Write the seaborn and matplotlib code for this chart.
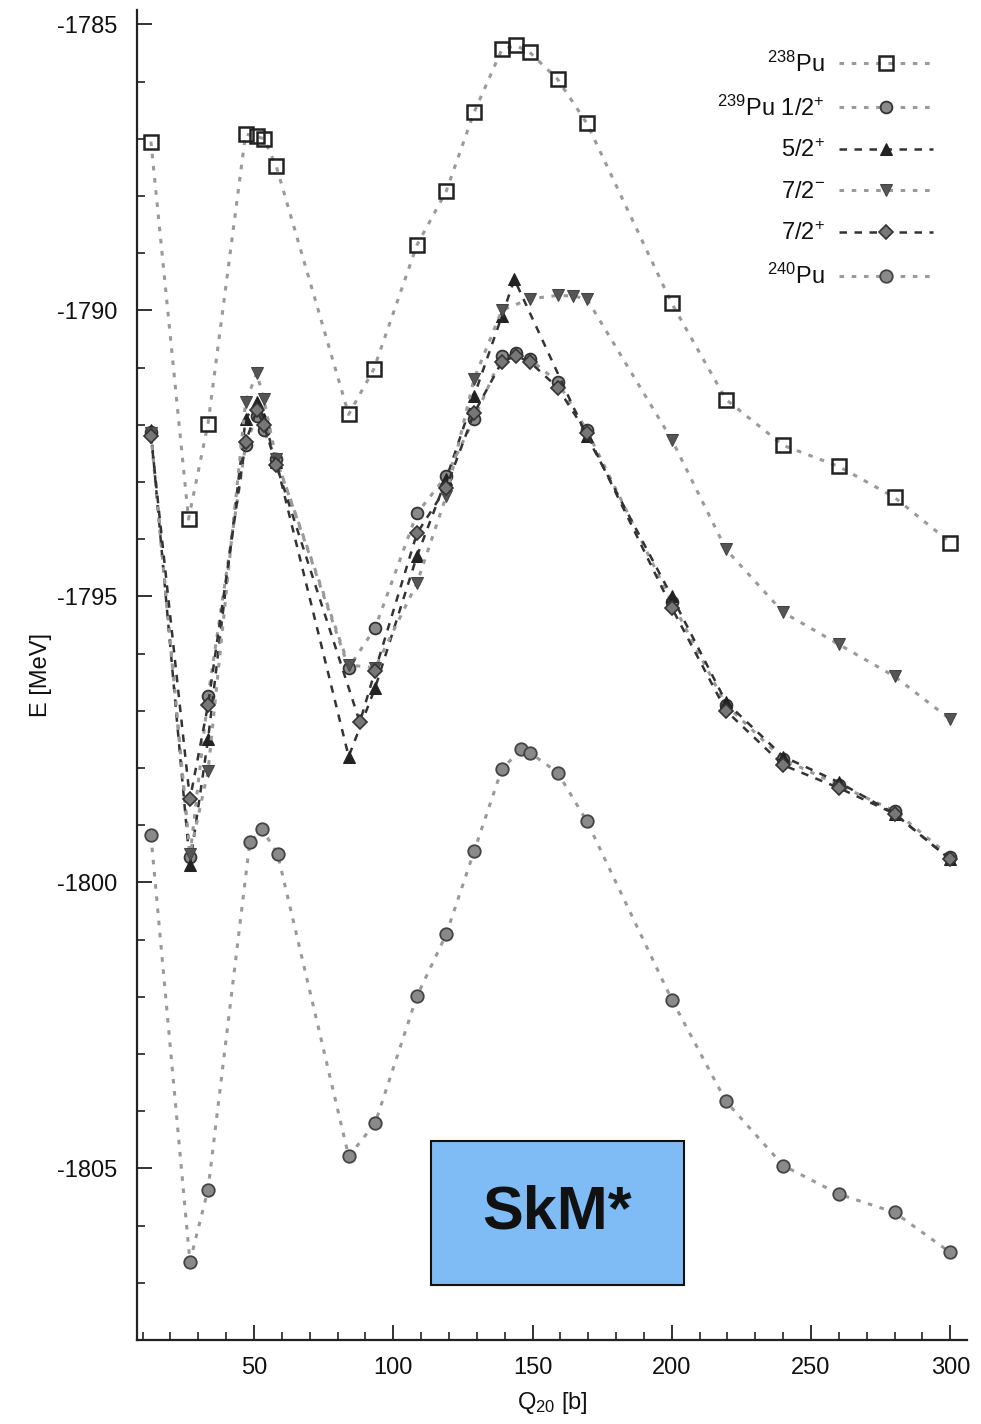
import matplotlib
matplotlib.use("Agg")
import matplotlib.pyplot as plt
import seaborn as sns
import pandas as pd
from matplotlib.ticker import MultipleLocator
from matplotlib.patches import Rectangle

# ---- data ----
q238 = [13, 26.5, 33.5, 47, 51, 53.5, 58, 84, 93, 108.5, 119, 129, 139, 144, 149, 159, 169.5, 200, 219.5, 240, 260, 280, 300]
e238 = [-1787.05, -1793.65, -1791.98, -1786.92, -1786.96, -1787.0, -1787.48, -1791.82, -1791.03, -1788.86, -1787.92,
        -1786.54, -1785.44, -1785.37, -1785.49, -1785.96, -1786.73, -1789.88, -1791.56, -1792.36, -1792.73, -1793.27, -1794.06]

q12 = [13, 27, 33.5, 47, 51, 53.5, 58, 84, 93.5, 108.5, 119, 129, 139, 144, 149, 159, 169.5, 200, 219.5, 240, 260, 280, 300]
e12 = [-1792.13, -1799.55, -1796.75, -1792.35, -1791.85, -1792.1, -1792.6, -1796.25, -1795.55, -1793.55, -1792.9,
       -1791.9, -1790.8, -1790.75, -1790.85, -1791.25, -1792.1, -1795.1, -1796.9, -1797.85, -1798.3, -1798.75, -1799.55]

q52 = [13, 27, 33.5, 47, 51, 53.5, 58, 84, 93.5, 108.5, 119, 129, 139, 143.5, 169.5, 200, 219.5, 240, 260, 280, 300]
e52 = [-1792.1, -1799.7, -1797.5, -1791.9, -1791.6, -1791.9, -1792.65, -1797.8, -1796.6, -1794.3, -1792.95,
       -1791.5, -1790.1, -1789.46, -1792.2, -1795.0, -1796.85, -1797.8, -1798.25, -1798.8, -1799.6]

q72m = [13, 27, 33.5, 47, 51, 53.5, 58, 84, 93.5, 108.5, 119, 129, 139, 149, 159, 164.5, 169.5, 200, 219.5, 240, 260, 280, 300]
e72m = [-1792.15, -1799.5, -1798.06, -1791.6, -1791.1, -1791.55, -1792.6, -1796.2, -1796.25, -1794.77, -1793.25,
        -1791.2, -1790.0, -1789.8, -1789.74, -1789.75, -1789.8, -1792.26, -1794.18, -1795.28, -1795.84, -1796.4, -1797.15]

q72p = [13, 27, 33.5, 47, 51, 53.5, 58, 88, 93.5, 108.5, 119, 129, 139, 144, 149, 159, 169.5, 200, 219.5, 240, 260, 280, 300]
e72p = [-1792.2, -1798.55, -1796.9, -1792.3, -1791.75, -1792.0, -1792.7, -1797.2, -1796.3, -1793.9, -1793.1,
        -1791.8, -1790.9, -1790.8, -1790.9, -1791.35, -1792.15, -1795.2, -1797.0, -1797.95, -1798.35, -1798.8, -1799.6]

q240 = [13, 27, 33.5, 48.5, 53, 58.5, 84, 93.5, 108.5, 119, 129, 139, 146, 149, 159, 169.5, 200, 219.5, 240, 260, 280, 300]
e240 = [-1799.18, -1806.63, -1805.37, -1799.30, -1799.07, -1799.51, -1804.79, -1804.21, -1801.99, -1800.91, -1799.46,
        -1798.02, -1797.67, -1797.73, -1798.08, -1798.93, -1802.05, -1803.83, -1804.95, -1805.45, -1805.77, -1806.47]

labels = ["$^{238}$Pu", "$^{239}$Pu 1/2$^{+}$", "5/2$^{+}$", "7/2$^{-}$", "7/2$^{+}$", "$^{240}$Pu"]
xticks = [50, 100, 150, 200, 250, 300]
yticks = [-1785, -1790, -1795, -1800, -1805]

sns.set_style("ticks")
plt.rcParams["font.family"] = ["Liberation Sans", "DejaVu Sans"]
plt.rcParams["mathtext.default"] = "regular"
plt.rcParams["axes.unicode_minus"] = False

fig = plt.figure(figsize=(9.81, 14.24), dpi=100)
ax = fig.add_axes([137/981, 1 - 1340/1424, 830/981, 1330/1424])

gray_ls = (0, (1.5, 2.5))
dark_ls = (0, (3, 3))
series = [
    (q238, e238, labels[0], dict(marker="s", markersize=9.5, markerfacecolor="none", markeredgecolor="#222222",
                                  markeredgewidth=1.8, color="#9a9a9a", linestyle=gray_ls, linewidth=2.2)),
    (q12, e12, labels[1], dict(marker="o", markersize=8.5, markerfacecolor="#8a8a8a", markeredgecolor="#333333",
                                markeredgewidth=1.3, color="#9a9a9a", linestyle=gray_ls, linewidth=2.2)),
    (q52, e52, labels[2], dict(marker="^", markersize=8.5, markerfacecolor="#222222", markeredgecolor="#222222",
                                color="#333333", linestyle=dark_ls, linewidth=1.8)),
    (q72m, e72m, labels[3], dict(marker="v", markersize=9, markerfacecolor="#555555", markeredgecolor="#444444",
                                  color="#9a9a9a", linestyle=gray_ls, linewidth=2.2)),
    (q72p, e72p, labels[4], dict(marker="D", markersize=7, markerfacecolor="#777777", markeredgecolor="#333333",
                                  markeredgewidth=1.2, color="#333333", linestyle=dark_ls, linewidth=1.8)),
    (q240, e240, labels[5], dict(marker="o", markersize=9, markerfacecolor="#8a8a8a", markeredgecolor="#444444",
                                  markeredgewidth=1.3, color="#9a9a9a", linestyle=gray_ls, linewidth=2.2)),
]

for qs, es, lab, kw in series:
    df = pd.DataFrame({"Q": qs, "E": es})
    sns.lineplot(data=df, x="Q", y="E", ax=ax, sort=False, estimator=None, label=lab, **kw)

ax.set_xlim(8, 306)
ax.set_ylim(-1808, -1784.75)
ax.set_xticks(xticks)
ax.set_yticks(yticks)
ax.xaxis.set_minor_locator(MultipleLocator(10))
ax.yaxis.set_minor_locator(MultipleLocator(1))
ax.tick_params(which="both", direction="in", color="#222222", labelsize=17, labelcolor="#111111")
ax.tick_params(which="major", length=11, width=1.3)
ax.tick_params(which="minor", length=6, width=1.2)
ax.tick_params(axis="x", pad=12)
ax.tick_params(axis="y", pad=14)
sns.despine(ax=ax)
for s in ["left", "bottom"]:
    ax.spines[s].set_linewidth(1.6)
    ax.spines[s].set_color("#222222")

ax.set_xlabel("Q$_{20}$ [b]", fontsize=17, labelpad=8, color="#111111")
ax.set_ylabel("E [MeV]", fontsize=17, labelpad=4, color="#111111")

leg = ax.legend(loc="upper right", bbox_to_anchor=(0.985, 0.985), frameon=False, markerfirst=False,
                fontsize=17, handlelength=4.0, labelspacing=0.8, handletextpad=0.6)
for t in leg.get_texts():
    t.set_color("#111111")

# SkM* box
ax.add_patch(Rectangle((0.354, 0.041), 0.305, 0.109, transform=ax.transAxes, facecolor="#7fbcf5",
                       edgecolor="#111111", linewidth=1.5, zorder=5))
ax.text(0.5065, 0.0955, "SkM*", transform=ax.transAxes, ha="center", va="center", fontsize=44,
        fontweight="bold", color="#111111", zorder=6)

fig.savefig("out.png", dpi=100)
